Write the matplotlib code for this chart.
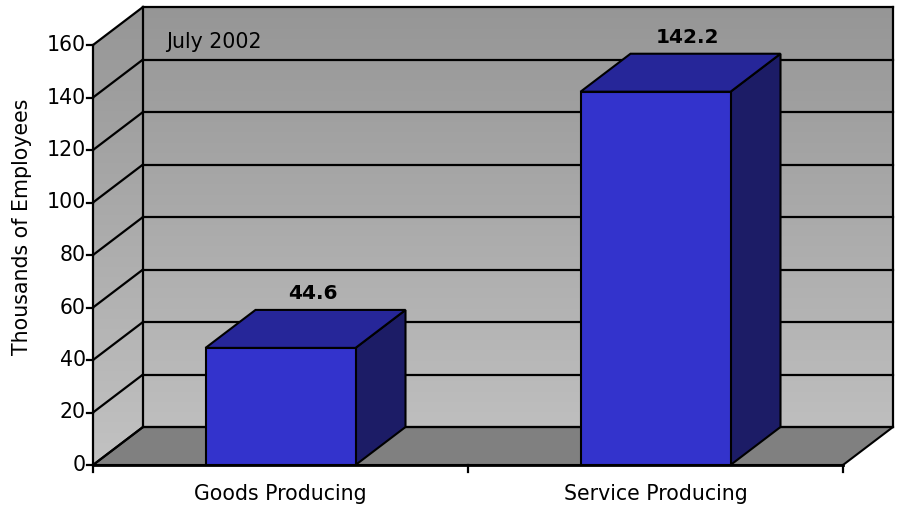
#! /usr/bin/env python3
# Pseudo 3D column chart (Excel style): employees by sector, July 2002.
import matplotlib
matplotlib.use('Agg')
import matplotlib.pyplot as plt
import numpy as np
from matplotlib.patches import Polygon, Rectangle
from matplotlib.colors import LinearSegmentedColormap

categories = ['Goods Producing', 'Service Producing']
values = [44.6, 142.2]
yticks = [0, 20, 40, 60, 80, 100, 120, 140, 160]
ylabel = 'Thousands of Employees'
note = 'July 2002'

plt.rcParams['font.family'] = ['DejaVu Sans']

# pixel layout of the plot box (front plane) and the depth offset
X0, X1 = 93, 843
Y0, YTOP = 465, 45
VMAX = 160.0
DX, DY = 50, -38
BAR_W = 150
FS = 14.8


def ypix(v):
  return Y0 - (Y0 - YTOP) * v / VMAX


fig = plt.figure(figsize=(9, 5.08), dpi=100)
ax = fig.add_axes([0, 0, 1, 1])
ax.set_xlim(0, 900)
ax.set_ylim(508, 0)
ax.axis('off')

# wall gradient
grad = LinearSegmentedColormap.from_list('wall', ['#969696', '#c2c2c2'])
gimg = np.linspace(0, 1, 256).reshape(-1, 1)

back = Polygon([(X0 + DX, YTOP + DY), (X1 + DX, YTOP + DY),
                (X1 + DX, Y0 + DY), (X0 + DX, Y0 + DY)], closed=True,
               facecolor='none', edgecolor='none')
left = Polygon([(X0, YTOP), (X0 + DX, YTOP + DY), (X0 + DX, Y0 + DY), (X0, Y0)],
               closed=True, facecolor='none', edgecolor='none')
for p in (back, left):
  ax.add_patch(p)
  im = ax.imshow(gimg, cmap=grad, aspect='auto',
                 extent=(X0, X1 + DX, Y0, YTOP + DY), zorder=1)
  im.set_clip_path(p)

# floor
floor = Polygon([(X0, Y0), (X0 + DX, Y0 + DY), (X1 + DX, Y0 + DY), (X1, Y0)],
                closed=True, facecolor='#808080', edgecolor='black', lw=1.5, zorder=2)
ax.add_patch(floor)

# gridlines on back and side walls
for v in yticks:
  y = ypix(v)
  ax.plot([X0 + DX, X1 + DX], [y + DY, y + DY], color='black', lw=1.6, zorder=3)
  ax.plot([X0, X0 + DX], [y, y + DY], color='black', lw=1.6, zorder=3)

# wall outlines
ax.plot([X0 + DX, X0 + DX], [Y0 + DY, YTOP + DY], color='black', lw=1.6, zorder=3)
ax.plot([X1 + DX, X1 + DX], [Y0 + DY, YTOP + DY], color='black', lw=1.6, zorder=3)

# bars
nb = len(categories)
slot = (X1 - X0) / nb
for i, (cat, v) in enumerate(zip(categories, values)):
  cx = X0 + slot * (i + 0.5)
  xl, xr = cx - BAR_W / 2, cx + BAR_W / 2
  yt = ypix(v)
  side = Polygon([(xr, Y0), (xr + DX, Y0 + DY), (xr + DX, yt + DY), (xr, yt)],
                 closed=True, facecolor='#1c1c66', edgecolor='black', lw=1.5, zorder=5)
  top = Polygon([(xl, yt), (xl + DX, yt + DY), (xr + DX, yt + DY), (xr, yt)],
                closed=True, facecolor='#262699', edgecolor='black', lw=1.5, zorder=5)
  front = Rectangle((xl, yt), BAR_W, Y0 - yt, facecolor='#3333cc',
                    edgecolor='black', lw=1.5, zorder=6)
  ax.add_patch(side)
  ax.add_patch(top)
  ax.add_patch(front)
  ax.text(cx + 32, yt + DY - 16, '%.1f' % v, ha='center', va='center',
          fontsize=14.5, fontweight='bold', zorder=7)
  ax.text(cx, 494, cat, ha='center', va='center', fontsize=FS, zorder=7)

# front axes
ax.plot([X0, X0], [Y0, YTOP], color='black', lw=1.6, zorder=8)
ax.plot([X0, X1], [Y0, Y0], color='black', lw=2, zorder=8)
for v in yticks:
  y = ypix(v)
  ax.plot([X0 - 6, X0], [y, y], color='black', lw=1.6, zorder=8)
  ax.text(X0 - 7, y, str(v), ha='right', va='center', fontsize=FS, zorder=8)
for i in range(nb + 1):
  x = X0 + slot * i
  ax.plot([x, x], [Y0, Y0 + 7], color='black', lw=1.6, zorder=8)

ax.text(214, 42, note, ha='center', va='center', fontsize=FS, zorder=7)

# y label, clipped like the original
yl = ax.text(22, 355, ylabel, rotation=90, rotation_mode='anchor',
             ha='left', va='center', fontsize=FS, zorder=8)
clip = Rectangle((0, 100), 60, 300, transform=ax.transData)
yl.set_clip_path(clip)

fig.savefig('out.png', dpi=100)
